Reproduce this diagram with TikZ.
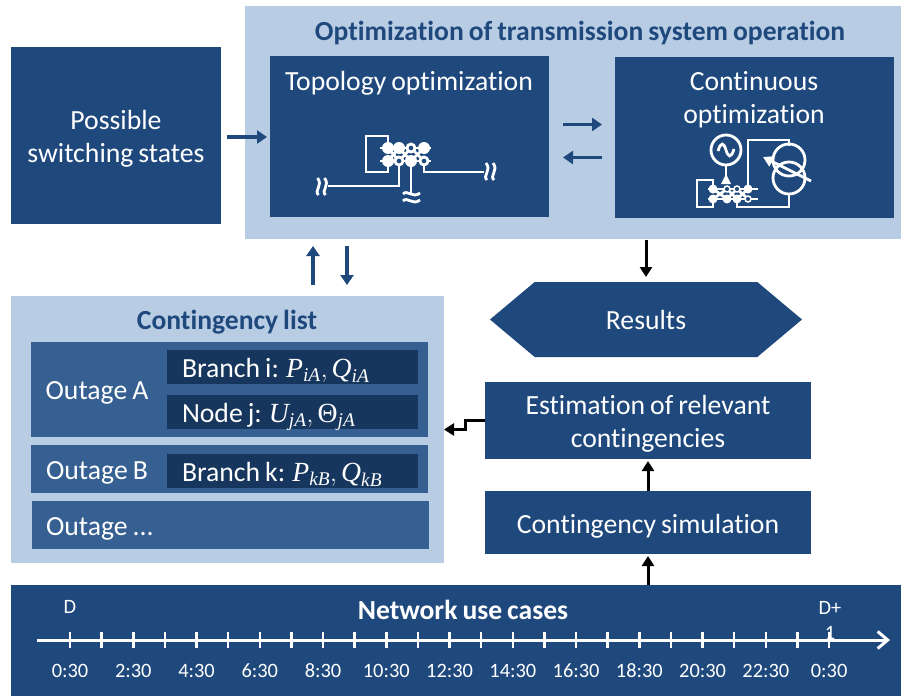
\documentclass[tikz,border=0pt]{standalone}
\usepackage{amsmath}
\usepackage{fontspec}
\setmainfont{Carlito}[WordSpace=0.8,Ligatures=NoCommon]
\newfontfamily\serifrm{Liberation Serif}
\usetikzlibrary{arrows.meta, calc, positioning, shapes.symbols}
\definecolor{boxblue}{HTML}{1F497D}
\definecolor{paleblue}{HTML}{B8CCE4}
\definecolor{midblue}{HTML}{366092}
\definecolor{darkblue}{HTML}{17365D}
\newcommand{\qvar}[2]{\text{\serifrm\itshape #1}_{\text{\serifrm\itshape #2}}}
\newcommand{\qrm}[2]{\text{\serifrm #1}_{\text{\serifrm\itshape #2}}}

\begin{document}
\begin{tikzpicture}[x=1pt,y=-1pt,
    every node/.style={inner sep=0pt,outer sep=0pt,align=center},
    txt/.style={font=\fontsize{27.7}{33}\selectfont,text=white},
    small/.style={font=\fontsize{20.4}{25}\selectfont,text=white},
    title/.style={font=\fontsize{27.6}{30}\selectfont\bfseries,text=boxblue},
    panel/.style={fill=paleblue},
    block/.style={fill=boxblue,txt},
    outage/.style={fill=midblue,txt},
    detail/.style={fill=darkblue,txt,minimum width=251pt,minimum height=34pt,text width=221pt,align=flush left,text height=26pt,text depth=6pt},
    bluearrow/.style={draw=boxblue,line width=3.5pt,-{Triangle[length=10pt,width=13pt]}},
    blackarrow/.style={draw=black,line width=3pt,-{Triangle[length=10pt,width=12pt]}},
    icon/.style={draw=white,line width=2.8pt},
    breakmark/.pic={\draw[icon] (-8.5,-3) .. controls (-4,-8) and (1,2) .. (8.5,-4);
      \draw[icon] (-8.5,4) .. controls (-4,-1) and (1,9) .. (8.5,3);}
    ]
    \useasboundingbox (0,0) rectangle (901,696);
    \node[panel,minimum width=656pt,minimum height=233pt] (optim) at (573,122.5) {};
    \node[panel,minimum width=433pt,minimum height=267pt] (clist) at (227.5,429.5) {};
    \node[title] (optimtitle) at (580,33) {Optimization of transmission system operation};
    \node[title] (clisttitle) at (227,322) {Contingency list};
    %
    \node[block,minimum width=210pt,minimum height=177pt] (states) at (116,135.5) {};
    \node[txt] (stateslabel) at (116,138.5) {Possible\\switching states};
    \node[block,minimum width=279pt,minimum height=161pt] (topo) at (409.5,136.5) {};
    \node[block,minimum width=279pt,minimum height=161pt] (cont) at (754.5,137.5) {};
    \node[txt] (topotitle) at (409,83) {Topology optimization};
    \node[txt] (conttitle) at (754,100) {Continuous\\optimization};
    %
    \node[shape=signal,signal to=west and east,signal pointer angle=80,fill=boxblue,txt,minimum width=312pt,minimum height=75pt] (results) at (646,319.5) {Results};
    \node[block,minimum width=326pt,minimum height=77pt] (estim) at (648,420.5) {};
    \node[txt] (estimlabel) at (648,424) {Estimation of relevant\\contingencies};
    \node[block,minimum width=326pt,minimum height=63pt] (sim) at (648,522.5) {};
    \node[txt] (simlabel) at (648,526) {Contingency simulation};
    \node[block,minimum width=890pt,minimum height=111pt] (usecases) at (456,640.5) {};
    \node[font=\fontsize{27.6}{30}\selectfont\bfseries,text=white] (usetitle) at (463,610) {Network use cases};
    %
    \node[outage,minimum width=397pt,minimum height=95pt] (outA) at (229.5,389.5) {};
    \node[outage,minimum width=397pt,minimum height=48pt] (outB) at (229.5,469) {};
    \node[outage,minimum width=397pt,minimum height=48pt] (outC) at (230.5,525) {};
    \node[txt] (labA) at (97,393) {Outage A};
    \node[txt] (labB) at (97,473) {Outage B};
    \node[txt,anchor=west] (labC) at (46,529) {Outage ...};
    \node[detail] (branchi) at (292.5,367) {Branch i: $\qvar{P}{iA},\qvar{Q}{iA}$};
    \node[detail] (nodej) at (292.5,412) {Node j: $\qvar{U}{jA},\qrm{Θ}{jA}$};
    \node[detail] (branchk) at (292.5,471) {Branch k: $\qvar{P}{kB},\qvar{Q}{kB}$};
    %
    \draw[bluearrow,shorten <=6pt,shorten >=3pt] (states.east |- 0,137) -- (topo.west |- 0,137);
    \draw[bluearrow,shorten <=14pt,shorten >=13pt] ([yshift=12pt]topo.east) -- ([yshift=13pt]cont.west);
    \draw[bluearrow,shorten <=13pt,shorten >=14pt] ([yshift=-20pt]cont.west) -- ([yshift=-21pt]topo.east);
    \draw[bluearrow,shorten <=11pt,shorten >=7pt] ([xshift=85.5pt]clist.north) -- ([xshift=85.5pt]clist.north |- optim.south);
    \draw[bluearrow,shorten <=7pt,shorten >=11pt] ([xshift=119.5pt]clist.north |- optim.south) -- ([xshift=119.5pt]clist.north);
    \draw[blackarrow,shorten <=1pt,shorten >=5pt] (results.north |- optim.south) -- (results.north);
    \draw[blackarrow] (estim.west) -- ++(-20,0) |- (clist.east);
    \draw[blackarrow,shorten >=2pt] (sim.north) -- (estim.south);
    \draw[blackarrow,shorten >=2pt] (sim.south |- usecases.north) -- (sim.south);
    %
    % time axis
    \node[small] (dstart) at (70,607) {D};
    \node[small,anchor=north] (dend) at (830,601) {D+\\1};
    \coordinate (axisstart) at (37,640);
    \coordinate (axisend) at (890,640);
    \draw[icon,line width=3pt,-{Straight Barb[length=10pt,width=17pt]}] (axisstart) -- (axisend);
    \foreach \it in {0,...,24}
    \draw[icon,line width=2.5pt] ({70+31.63*\it},632) -- ({70+31.63*\it},648);
    \foreach \it / \lab in {0/0:30,2/2:30,4/4:30,6/6:30,8/8:30,10/10:30,12/12:30,14/14:30,16/16:30,18/18:30,20/20:30,22/22:30,24/0:30}
    \node[small] (time\it) at ({70+31.63*\it},671) {\lab};
    %
    % topology symbol
    \draw[icon] (388,148) -- (388,136) -- (366,136) -- (366,172) -- (388,172) -- (388,161);
    \draw[icon] (380,148) -- (431,148);
    \draw[icon] (380,161) -- (431,161);
    \draw[icon] (388,148) -- (399,161) -- (411,148) -- (424,161);
    \draw[icon] (388,161) -- (399,148) -- (411,161) -- (424,148);
    \draw[icon] (399,161) -- (399,186) -- (328,186);
    \draw[icon] (411,161) -- (411,193);
    \draw[icon] (424,161) -- (424,172) -- (484,172);
    \foreach \x / \y in {388/148,399/148,424/148,388/161,411/161}
    \fill[white] (\x,\y) circle (6);
    \foreach \x / \y in {411/148,399/161,424/161}
    \draw[icon,fill=boxblue] (\x,\y) circle (4);
    \pic at (411.5,197) {breakmark};
    \pic[rotate=90] at (490,171.5) {breakmark};
    \pic[rotate=90] at (321.5,186.5) {breakmark};
    %
    % generator and transformer symbol
    \draw[icon] (726,150) circle (15);
    \draw[icon] (718,151) .. controls (721,141) and (724,143) .. (726,150) .. controls (728,157) and (731,159) .. (734,149);
    \draw[icon] (726,165) -- (726,180);
    \fill[white] (726,174) -- (721,184) -- (731,184) -- cycle;
    \draw[icon] (713,189) -- (713,180) -- (697,180) -- (697,207) -- (713,207) -- (713,199);
    \draw[icon] (708,189) -- (758,189);
    \draw[icon] (708,199) -- (758,199);
    \draw[icon] (713,189) -- (727,199) -- (737,189) -- (748,199);
    \draw[icon] (713,199) -- (727,189) -- (737,199) -- (748,189);
    \draw[icon] (748,189) -- (748,140) -- (789,140) -- (789,146);
    \draw[icon] (789,194) -- (789,207) -- (737,207) -- (737,199);
    \draw[icon] (789,160) circle (16);
    \draw[icon] (789,178) circle (16);
    \draw[icon,-{Triangle[length=10pt,width=11pt]}] (811,181) -- (763,157);
    \foreach \x / \y in {713/189,748/189,713/199,727/199,737/199}
    \fill[white] (\x,\y) circle (4.5);
    \foreach \x / \y in {727/189,737/189,748/199}
    \draw[icon,fill=boxblue,line width=1.5pt] (\x,\y) circle (3);
\end{tikzpicture}
\end{document}
